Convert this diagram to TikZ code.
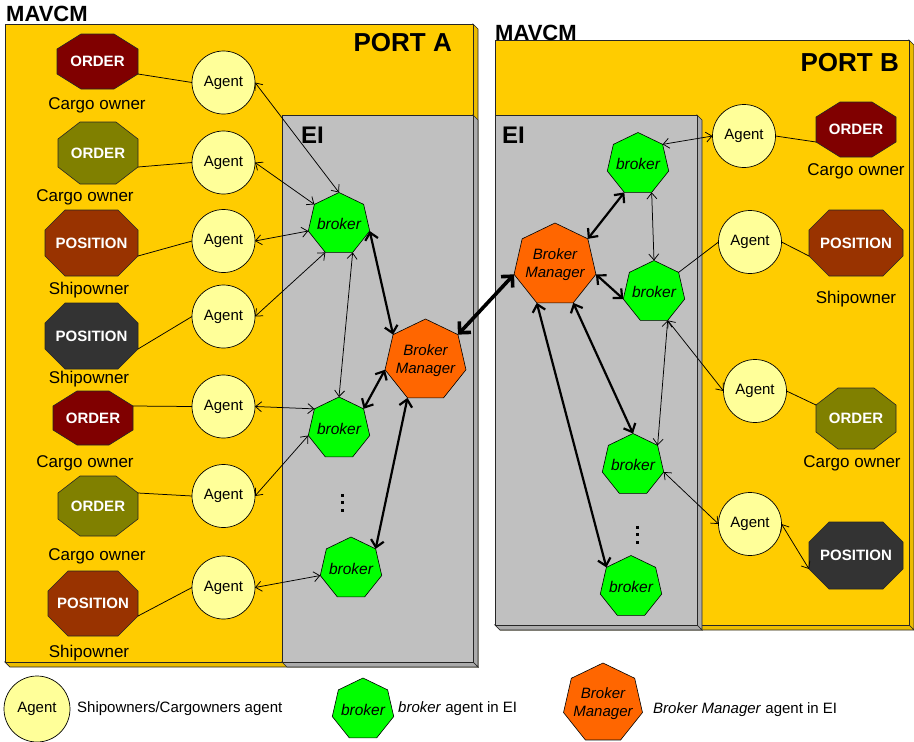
\documentclass[tikz,border=0pt]{standalone}
\usepackage{fontspec}
\setmainfont{Liberation Sans}
\usetikzlibrary{shapes.geometric, arrows.meta}

\definecolor{portyel}{HTML}{FFCC00}
\definecolor{portyelside}{HTML}{EBBC00}
\definecolor{eigray}{HTML}{C0C0C0}
\definecolor{eigrayside}{HTML}{ABABAB}
\definecolor{agentyel}{HTML}{FFFF99}
\definecolor{brkgreen}{HTML}{00FF00}
\definecolor{mgrorange}{HTML}{FF6600}
\definecolor{ordred}{HTML}{800000}
\definecolor{ordolive}{HTML}{808000}
\definecolor{posbrown}{HTML}{993300}
\definecolor{posdark}{HTML}{333333}

% 3D slab: #1 x0, #2 y0, #3 x1, #4 y1, #5 front colour, #6 side colour
\newcommand\slabbox[6]{%
  \filldraw[boxline, fill=#6] (#3,#2) -- (#3+5,#2+5) -- (#3+5,#4+5) -- (#3,#4) -- cycle;
  \filldraw[boxline, fill=#6] (#1,#4) -- (#3,#4) -- (#3+5,#4+5) -- (#1+5,#4+5) -- cycle;
  \filldraw[boxline, fill=#5] (#1,#2) rectangle (#3,#4);
}

% octagon sign: #1 name, #2 x, #3 y, #4 half width, #5 half height,
% #6 horizontal cut, #7 vertical cut, #8 fill, #9 text
\newcommand\octsign[9]{%
  \filldraw[octline, fill=#8]
    (#2-#4+#6,#3-#5) -- (#2+#4-#6,#3-#5) -- (#2+#4,#3-#5+#7) -- (#2+#4,#3+#5-#7)
    -- (#2+#4-#6,#3+#5) -- (#2-#4+#6,#3+#5) -- (#2-#4,#3+#5-#7) -- (#2-#4,#3-#5+#7) -- cycle;
  \node[octbox, minimum width=2*#4, minimum height=2*#5] (#1) at (#2,#3) {#9};
  \coordinate (#1-ne) at (#2+#4,#3-#5+#7);
  \coordinate (#1-se) at (#2+#4,#3+#5-#7);
  \coordinate (#1-nw) at (#2-#4,#3-#5+#7);
  \coordinate (#1-sw) at (#2-#4,#3+#5-#7);
}

\begin{document}
\begin{tikzpicture}[x=1pt, y=-1pt,
  boxline/.style={draw=black!85, line width=0.7pt},
  octline/.style={draw=black!85, line width=0.6pt},
  octbox/.style={rectangle, inner sep=0pt, outer sep=0pt, text=white,
    font=\fontsize{15}{18}\selectfont\bfseries},
  agent/.style={circle, draw, line width=0.7pt, fill=agentyel, minimum size=63pt,
    inner sep=0pt, outer sep=0pt, font=\fontsize{15}{18}\selectfont},
  hepta/.style={regular polygon, regular polygon sides=7, draw, line width=0.6pt,
    inner sep=0pt, outer sep=0pt},
  brktext/.style={inner sep=0pt, font=\fontsize{15.5}{18}\selectfont\itshape},
  mgrtext/.style={inner sep=0pt, align=center, font=\fontsize{15}{18}\selectfont\itshape},
  brk/.style={hepta, fill=brkgreen, minimum size=63pt, label={[brktext]center:broker}},
  mgr/.style={hepta, fill=mgrorange, minimum size=#1,
    label={[mgrtext]center:Broker\\Manager}},
  mgr/.default=83pt,
  ownerlbl/.style={anchor=base, inner sep=0pt, font=\fontsize{17}{20}\selectfont},
  title/.style={inner sep=0pt, font=\fontsize{22}{24}\selectfont\bfseries},
  porttitle/.style={inner sep=0pt, anchor=base east, font=\fontsize{26}{28}\selectfont\bfseries},
  eititle/.style={inner sep=0pt, anchor=base west, font=\fontsize{24}{26}\selectfont\bfseries},
  legtext/.style={inner sep=0pt, anchor=base west, font=\fontsize{15}{18}\selectfont},
  link/.style={line width=0.75pt},
  duplex/.style={line width=0.75pt,
    {Straight Barb[length=6pt,width=10pt]}-{Straight Barb[length=6pt,width=10pt]}},
  mgrlink/.style={line width=2.2pt,
    {Straight Barb[length=7pt,width=13pt]}-{Straight Barb[length=7pt,width=13pt]}},
  portlink/.style={line width=3.6pt,
    {Straight Barb[length=8pt,width=16pt]}-{Straight Barb[length=8pt,width=16pt]}}
]
\useasboundingbox (0,0) rectangle (914,742);
\fill[white] (0,0) rectangle (914,742);

% ---------- port slabs ----------
\slabbox{5}{24}{473}{662}{portyel}{portyelside}
\slabbox{282}{115}{473}{662}{eigray}{eigrayside}
\slabbox{495}{40}{909}{625}{portyel}{portyelside}
\slabbox{495}{115}{697}{625}{eigray}{eigrayside}

\node[title, anchor=base west] (mavA) at (6,21) {MAVCM};
\node[title, anchor=base west] (mavB) at (495,40) {MAVCM};
\node[porttitle] (portA) at (452,51) {PORT A};
\node[porttitle] (portB) at (899,71) {PORT B};
\node[eititle] (eiA) at (301,143) {EI};
\node[eititle] (eiB) at (502,143) {EI};

% ---------- port A: owners ----------
\octsign{oA1}{97.5}{61.5}{40.5}{27.5}{24}{15}{ordred}{ORDER}
\octsign{oA2}{98}{153}{40}{31}{22}{17}{ordolive}{ORDER}
\octsign{oA3}{91.5}{243}{46.5}{33}{20}{20}{posbrown}{POSITION}
\octsign{oA4}{91.5}{336}{46.5}{33}{20}{20}{posdark}{POSITION}
\octsign{oA5}{93}{418}{40}{27}{24}{15}{ordred}{ORDER}
\octsign{oA6}{98}{506}{40}{30}{22}{17}{ordolive}{ORDER}
\octsign{oA7}{93}{603.5}{45}{32.5}{20}{20}{posbrown}{POSITION}

\node[ownerlbl] (lA1) at (97,109) {Cargo owner};
\node[ownerlbl] (lA2) at (85,201) {Cargo owner};
\node[ownerlbl] (lA3) at (89,294) {Shipowner};
\node[ownerlbl] (lA4) at (89,383) {Shipowner};
\node[ownerlbl] (lA5) at (85,467) {Cargo owner};
\node[ownerlbl] (lA6) at (97,560) {Cargo owner};
\node[ownerlbl] (lA7) at (89,657) {Shipowner};

\node[agent] (agA1) at (223.5,82.5) {Agent};
\node[agent] (agA2) at (223.5,162.5) {Agent};
\node[agent] (agA3) at (223.5,241) {Agent};
\node[agent] (agA4) at (223.5,316.5) {Agent};
\node[agent] (agA5) at (223.5,406.5) {Agent};
\node[agent] (agA6) at (223.5,496) {Agent};
\node[agent] (agA7) at (223.5,587.5) {Agent};

% ---------- port A: electronic intermediary ----------
\node[brk] (bA1) at (339,224) {};
\node[brk] (bA2) at (339,428.5) {};
\node[brk] (bA3) at (351,568.5) {};
\node[mgr] (mA) at (425.5,360.5) {};

% ---------- port B ----------
\node[brk] (bB1) at (638,164) {};
\node[brk] (bB2) at (654,292) {};
\node[brk] (bB3) at (633,465) {};
\node[brk] (bB4) at (631,587) {};
\node[mgr=84pt] (mB) at (555,265) {};

\node[agent] (agB1) at (744,136) {Agent};
\node[agent] (agB2) at (750,242) {Agent};
\node[agent] (agB3) at (755,391) {Agent};
\node[agent] (agB4) at (750,524) {Agent};

\octsign{oB1}{856}{129.5}{40}{27.5}{24}{15}{ordred}{ORDER}
\octsign{oB2}{856}{243}{47}{33}{20}{20}{posbrown}{POSITION}
\octsign{oB3}{856}{418.5}{40}{30.5}{22}{17}{ordolive}{ORDER}
\octsign{oB4}{856}{555.5}{47}{33.5}{20}{20}{posdark}{POSITION}

\node[ownerlbl] (lB1) at (856,175) {Cargo owner};
\node[ownerlbl] (lB2) at (856,303) {Shipowner};
\node[ownerlbl] (lB3) at (852,467) {Cargo owner};

% continuation marks
\foreach \dy in {495,502.5,510} \fill (340.5,\dy-1.5) rectangle ++(3,3);
\foreach \dy in {527,534.5,542} \fill (635.5,\dy-1.5) rectangle ++(3,3);

% ---------- connectors, port A ----------
\draw[link] (oA1-se) -- (agA1.west);
\draw[link] (oA2-se) -- (agA2.west);
\draw[link] (oA3-se) -- (agA3.west);
\draw[link] (oA4-se) -- (agA4.west);
\draw[link] (oA5-ne) -- (agA5.west);
\draw[link] (oA6-ne) -- (agA6.west);
\draw[link] (oA7-se) -- (agA7.west);

\draw[duplex] (agA1.east) -- (bA1.corner 1);
\draw[duplex] (agA2.east) -- (bA1.corner 2);
\draw[duplex] (agA3.east) -- (bA1.corner 3);
\draw[duplex] (agA4.east) -- (bA1.corner 4);
\draw[duplex] (bA1.corner 5) -- (bA2.corner 1);
\draw[duplex] (agA5.east) -- (bA2.corner 2);
\draw[duplex] (agA6.east) -- (bA2.corner 3);
\draw[duplex] (agA7.east) -- (bA3.corner 3);

\draw[mgrlink] (bA1.corner 6) -- (mA.corner 2);
\draw[mgrlink] (bA2.corner 7) -- (mA.corner 3);
\draw[mgrlink] (mA.corner 4) -- (bA3.corner 7);

\draw[portlink] (mA.corner 7) -- (mB.corner 3);

% ---------- connectors, port B ----------
\draw[mgrlink] (mB.corner 7) -- (bB1.corner 4);
\draw[mgrlink] (mB.corner 6) -- (bB2.corner 3);
\draw[mgrlink] (mB.corner 5) -- (bB3.corner 1);
\draw[mgrlink] (mB.corner 4) -- (bB4.corner 2);

\draw[duplex] (bB1.corner 7) -- (agB1.west);
\draw[duplex] (bB1.corner 5) -- (bB2.corner 1);
\draw[link] (bB2.corner 7) -- (agB2.west);
\draw[duplex] (bB2.corner 5) -- (agB3.west);
\draw[duplex] (bB2.corner 5) -- (bB3.corner 7);
\draw[duplex] (bB3.corner 6) -- (agB4.west);

\draw[link] (agB1.east) -- (oB1-sw);
\draw[link] (agB2.east) -- (oB2-sw);
\draw[link] (agB3.east) -- (oB3-nw);
\draw[duplex] (agB4.east) -- (oB4-sw);

% ---------- legend ----------
\node[agent, minimum size=66pt] (legAg) at (37,709) {Agent};
\node[legtext] (legAgT) at (77,712) {Shipowners/Cargowners agent};
\node[brk] (legBrk) at (363,709.5) {};
\node[legtext] (legBrkT) at (398,712) {\textit{broker} agent in EI};
\node[mgr=81pt] (legMgr) at (603,703.5) {};
\node[legtext] (legMgrT) at (653,713) {\textit{Broker Manager} agent in EI};
\end{tikzpicture}
\end{document}
